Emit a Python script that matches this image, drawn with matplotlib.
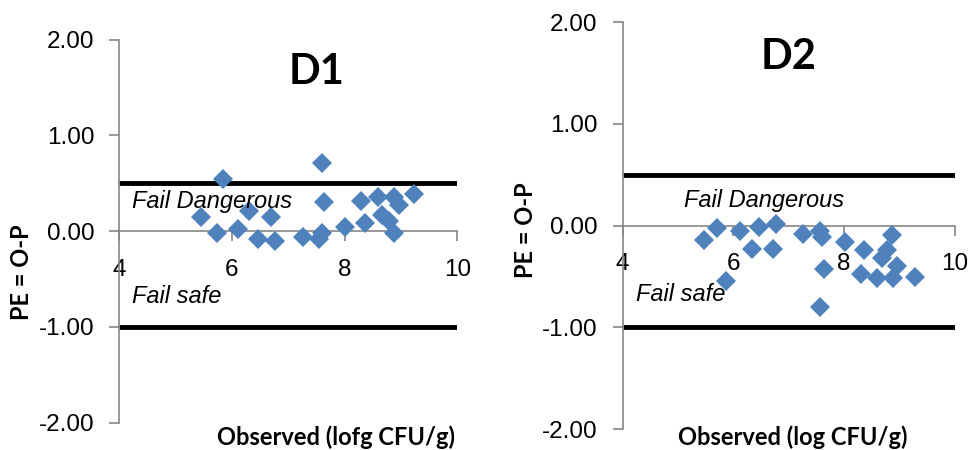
import matplotlib.pyplot as plt

# Prediction error (observed - predicted) against observed counts
d1_obs = [5.45, 5.73, 5.84, 6.11, 6.30, 6.47, 6.70, 6.77, 7.27, 7.55, 7.59, 7.59,
          7.63, 8.01, 8.29, 8.36, 8.60, 8.66, 8.79, 8.87, 8.88, 8.96, 9.24]
d1_pe = [0.15, -0.02, 0.55, 0.02, 0.21, -0.08, 0.15, -0.10, -0.06, -0.08, -0.02, 0.71,
         0.30, 0.04, 0.32, 0.09, 0.36, 0.17, 0.11, 0.36, -0.02, 0.27, 0.39]

d2_obs = [5.46, 5.71, 5.87, 6.12, 6.33, 6.47, 6.71, 6.77, 7.25, 7.56, 7.60, 7.64,
          7.57, 8.01, 8.30, 8.36, 8.60, 8.68, 8.78, 8.87, 8.89, 8.96, 9.28]
d2_pe = [-0.14, -0.02, -0.54, -0.05, -0.23, -0.01, -0.23, 0.02, -0.08, -0.05, -0.11, -0.43,
         -0.80, -0.16, -0.47, -0.24, -0.51, -0.32, -0.24, -0.09, -0.51, -0.40, -0.50]

upper_limit = 0.5
lower_limit = -1.0
y_ticks = [-2, -1, 0, 1, 2]
x_ticks = [4, 6, 8, 10]

plt.rcParams['font.family'] = ['Liberation Sans', 'DejaVu Sans']
bold_font = ['Lato', 'DejaVu Sans']
grey = '#868686'
blue = '#4F81BD'

fig = plt.figure(figsize=(9.71, 4.5), dpi=100)
ax1 = fig.add_axes([0.1229, 0.0607, 0.348, 0.851])
ax2 = fig.add_axes([0.6413, 0.046, 0.342, 0.905])

panels = [
    (ax1, d1_obs, d1_pe, (4.22, 0.31), (4.22, -0.68)),
    (ax2, d2_obs, d2_pe, (5.11, 0.25), (4.24, -0.68)),
]

for ax, xs, ys, fd_pos, fs_pos in panels:
    ax.plot([4, 10], [upper_limit, upper_limit], color='black', lw=3.5, solid_capstyle='butt', zorder=2)
    ax.plot([4, 10], [lower_limit, lower_limit], color='black', lw=3.5, solid_capstyle='butt', zorder=2)
    ax.plot(xs, ys, 'D', color=blue, markersize=10, markeredgewidth=0, zorder=3)

    ax.set_xlim(4, 10)
    ax.set_ylim(-2, 2)
    ax.spines['top'].set_visible(False)
    ax.spines['right'].set_visible(False)
    ax.spines['bottom'].set_position(('data', 0))
    for s in ('left', 'bottom'):
        ax.spines[s].set_color(grey)
        ax.spines[s].set_linewidth(1.2)

    ax.set_yticks(y_ticks)
    ax.set_yticklabels([f'{v:.2f}' for v in y_ticks])
    ax.set_xticks(x_ticks)
    ax.set_xticklabels([str(v) for v in x_ticks])
    ax.tick_params(axis='y', colors=grey, labelcolor='black', labelsize=17.5, length=7, width=1.2, pad=11)
    ax.tick_params(axis='x', colors=grey, labelcolor='black', labelsize=17.5, length=7, width=1.2, pad=13)
    ax.patch.set_alpha(0)

    ax.text(fd_pos[0], fd_pos[1], 'Fail Dangerous', style='italic', fontsize=17, va='center', ha='left')
    ax.text(fs_pos[0], fs_pos[1], 'Fail safe', style='italic', fontsize=17, va='center', ha='left')

ax1.text(7.5, 1.66, 'D1', fontsize=30, fontweight='bold', family=bold_font, ha='center', va='center')
ax2.text(7.0, 1.66, 'D2', fontsize=30, fontweight='bold', family=bold_font, ha='center', va='center')

# axis titles placed in figure pixels
lab = dict(fontsize=17, fontweight='bold', family=bold_font)
fig.text(22 / 971, 1 - 272 / 450, 'PE = O-P', rotation=90, ha='center', va='center', **lab)
fig.text(525 / 971, 1 - 230 / 450, 'PE = O-P', rotation=90, ha='center', va='center', **lab)
fig.text(455 / 971, 1 - 437 / 450, 'Observed (lofg CFU/g)', ha='right', va='center', **lab)
fig.text(907 / 971, 1 - 437 / 450, 'Observed (log CFU/g)', ha='right', va='center', **lab)

fig.savefig('out.png', dpi=100)
